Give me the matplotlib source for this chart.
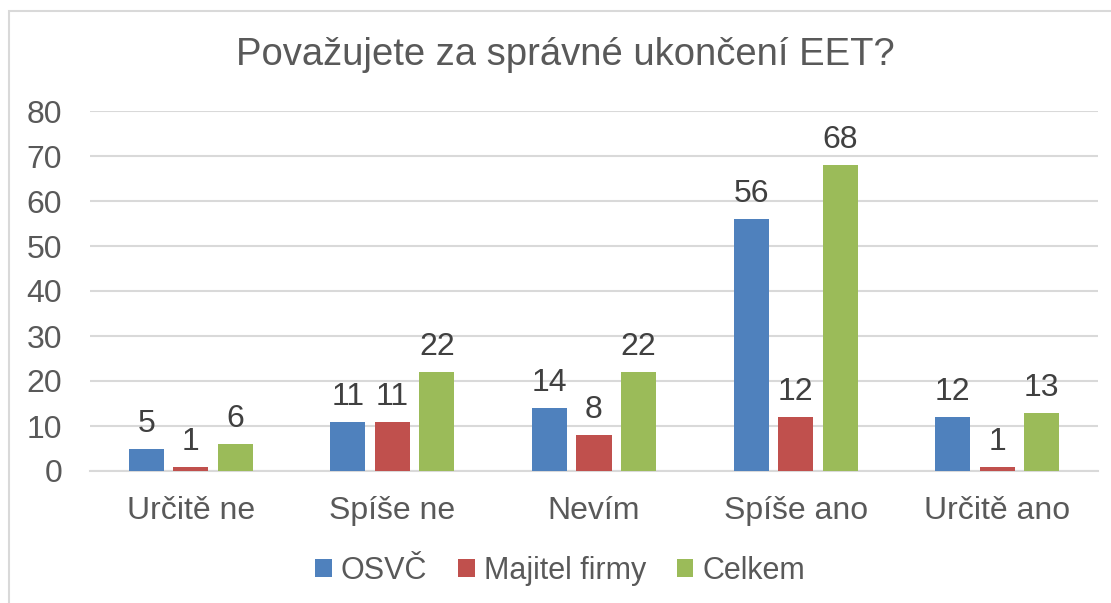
import matplotlib.pyplot as plt
import numpy as np
from matplotlib.patches import Rectangle

plt.rcParams["font.family"] = ["Liberation Sans", "DejaVu Sans"]

TITLE = "Považujete za správné ukončení EET?"
CATEGORIES = ["Určitě ne", "Spíše ne", "Nevím", "Spíše ano", "Určitě ano"]
SERIES = ["OSVČ", "Majitel firmy", "Celkem"]
OSVC = [5, 11, 14, 56, 12]
MAJITEL = [1, 11, 8, 12, 1]
CELKEM = [6, 22, 22, 68, 13]
COLORS = ["#4F81BD", "#C0504D", "#9BBB59"]
TEXT = "#595959"
GRID = "#D9D9D9"

fig = plt.figure(figsize=(11.11, 6.03), dpi=100)
fig.patches.append(Rectangle((9 / 1111, -0.05), 1.2, 1 - 11 / 603 + 0.05,
                             transform=fig.transFigure, fill=False,
                             edgecolor=GRID, linewidth=1.5))
ax = fig.add_axes([90 / 1111, 1 - 471 / 603, 1008 / 1111, 360 / 603])

x = np.arange(len(CATEGORIES))
width = 0.174
step = 0.221
for i, (name, vals, color) in enumerate(zip(SERIES, [OSVC, MAJITEL, CELKEM], COLORS)):
    bars = ax.bar(x + (i - 1) * step, vals, width, color=color, label=name, zorder=3)
    ax.bar_label(bars, padding=7, fontsize=23, color="#404040")

ax.set_xlim(-0.5, len(CATEGORIES) - 0.5)
ax.set_ylim(0, 80)
ax.set_yticks(range(0, 81, 10))
ax.set_xticks(x, CATEGORIES)
ax.yaxis.grid(True, color=GRID, linewidth=1.5, zorder=0)
ax.set_axisbelow(True)
for side in ["top", "right", "left"]:
    ax.spines[side].set_visible(False)
ax.spines["bottom"].set_color(GRID)
ax.spines["bottom"].set_linewidth(1.5)
ax.tick_params(axis="both", length=0, labelsize=23, labelcolor=TEXT)
ax.tick_params(axis="y", pad=20)
ax.tick_params(axis="x", pad=18)

fig.text(565 / 1111, 1 - 55 / 603, TITLE, ha="center", va="center",
         fontsize=27.5, color=TEXT)

fig.legend(loc="center", bbox_to_anchor=(560 / 1111, 1 - 571 / 603), ncol=3,
           frameon=False, fontsize=22, labelcolor=TEXT, handlelength=0.55,
           handleheight=0.55, handletextpad=0.3, columnspacing=1.0)

fig.savefig("out.png", dpi=100, facecolor="white")
